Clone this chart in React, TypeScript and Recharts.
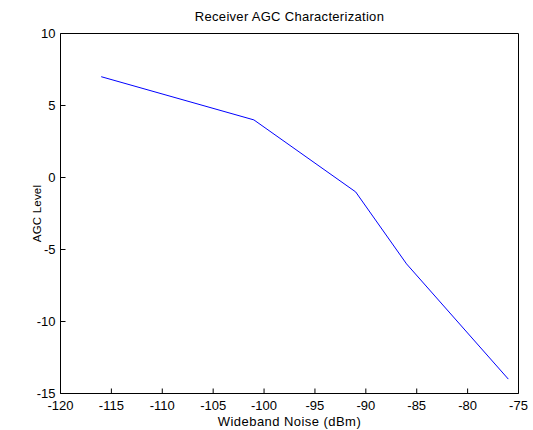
import React from 'react';
import { LineChart, Line, XAxis, YAxis, Label } from 'recharts';

const noiseDbm = [-116, -101, -91, -86, -76];
const agcLevel = [7, 4, -1, -6, -14];
const xTicks = [-120, -115, -110, -105, -100, -95, -90, -85, -80, -75];
const yTicks = [-15, -10, -5, 0, 5, 10];
const title = 'Receiver AGC Characterization';
const xLabel = 'Wideband Noise (dBm)';
const yLabel = 'AGC Level';

const data = noiseDbm.map((x, i) => ({ x, y: agcLevel[i] }));

const FONT = '"Liberation Sans", Arial, Helvetica, sans-serif';
const tickStyle = { fontSize: 13, fill: '#000', fontFamily: FONT };
const axisLine = { stroke: '#000', strokeWidth: 1 };
const tickLine = { stroke: '#000', strokeWidth: 1 };

export default function App() {
  return (
    <div style={{ position: 'absolute', left: 0, top: 0, width: 533, height: 430, background: '#fff' }}>
      <LineChart
        width={533}
        height={430}
        data={data}
        margin={{ top: 32.5, right: 13.5, bottom: 0, left: 0.5 }}
      >
        <XAxis
          xAxisId="b"
          dataKey="x"
          type="number"
          domain={[-120, -75]}
          ticks={xTicks}
          interval={0}
          allowDataOverflow
          orientation="bottom"
          height={36.5}
          tickSize={-5}
          tickMargin={12}
          tick={tickStyle}
          axisLine={axisLine}
          tickLine={tickLine}
        >
          <Label
            value={xLabel}
            position="insideBottom"
            offset={4}
            style={{ fontSize: 13, fill: '#000', fontFamily: FONT, letterSpacing: 0.45 }}
          />
        </XAxis>
        <XAxis
          xAxisId="t"
          dataKey="x"
          type="number"
          domain={[-120, -75]}
          ticks={xTicks}
          interval={0}
          allowDataOverflow
          orientation="top"
          height={1}
          tickSize={-5}
          tick={false}
          axisLine={axisLine}
          tickLine={tickLine}
        >
          <Label
            value={title}
            position="top"
            offset={12}
            style={{ fontSize: 13, fill: '#000', fontFamily: FONT, letterSpacing: 0.3 }}
          />
        </XAxis>
        <YAxis
          yAxisId="l"
          type="number"
          domain={[-15, 10]}
          ticks={yTicks}
          interval={0}
          allowDataOverflow
          orientation="left"
          width={60}
          tickSize={-5}
          tickMargin={10}
          tick={tickStyle}
          axisLine={axisLine}
          tickLine={tickLine}
        >
          <Label
            value={yLabel}
            angle={-90}
            position="insideLeft"
            offset={36}
            style={{ fontSize: 11.5, fill: '#000', fontFamily: FONT, textAnchor: 'middle', letterSpacing: 0.2 }}
          />
        </YAxis>
        <YAxis
          yAxisId="r"
          type="number"
          domain={[-15, 10]}
          ticks={yTicks}
          interval={0}
          allowDataOverflow
          orientation="right"
          width={1}
          tickSize={-5}
          tick={false}
          axisLine={axisLine}
          tickLine={tickLine}
        />
        <Line
          xAxisId="b"
          yAxisId="l"
          type="linear"
          dataKey="y"
          stroke="#0000ff"
          strokeWidth={1}
          dot={false}
          activeDot={false}
          isAnimationActive={false}
        />
      </LineChart>
    </div>
  );
}
